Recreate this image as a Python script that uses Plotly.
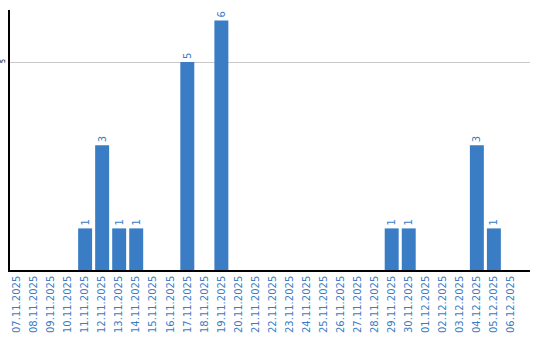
import plotly.graph_objects as go

dates = ["07.11.2025","08.11.2025","09.11.2025","10.11.2025","11.11.2025","12.11.2025",
         "13.11.2025","14.11.2025","15.11.2025","16.11.2025","17.11.2025","18.11.2025",
         "19.11.2025","20.11.2025","21.11.2025","22.11.2025","23.11.2025","24.11.2025",
         "25.11.2025","26.11.2025","27.11.2025","28.11.2025","29.11.2025","30.11.2025",
         "01.12.2025","02.12.2025","03.12.2025","04.12.2025","05.12.2025","06.12.2025"]
counts = [0,0,0,0,1,3,1,1,0,0,5,0,6,0,0,0,0,0,0,0,0,0,1,1,0,0,0,3,1,0]

blue = "#3a7dc4"
labels = [str(v) if v > 0 else "" for v in counts]

fig = go.Figure(go.Bar(
    x=dates, y=counts, marker_color=blue, marker_line_width=0,
    text=labels, textposition="outside", textangle=-90,
    textfont=dict(family="DejaVu Sans", size=10, color=blue),
    cliponaxis=False,
))
fig.update_layout(
    width=540, height=340, margin=dict(l=10, r=10, t=10, b=70),
    plot_bgcolor="white", paper_bgcolor="white", bargap=0.18,
    showlegend=False,
)
fig.update_xaxes(type="category", range=[-0.41, 30.12], tickangle=-90, showline=True,
                 linecolor="black", linewidth=1.5,
                 tickfont=dict(family="DejaVu Sans", size=10, color=blue),
                 showgrid=False, ticks="", automargin=False)
fig.update_yaxes(range=[0, 6.25], tickvals=[5], ticktext=["5"], tickangle=-90,
                 showline=True, linecolor="black", linewidth=1.5,
                 gridcolor="#c8c8c8", gridwidth=1, zeroline=False,
                 tickfont=dict(family="DejaVu Sans", size=7, color="black"),
                 ticks="", ticklabelstandoff=0, automargin=False)
fig.write_html("out.html")
